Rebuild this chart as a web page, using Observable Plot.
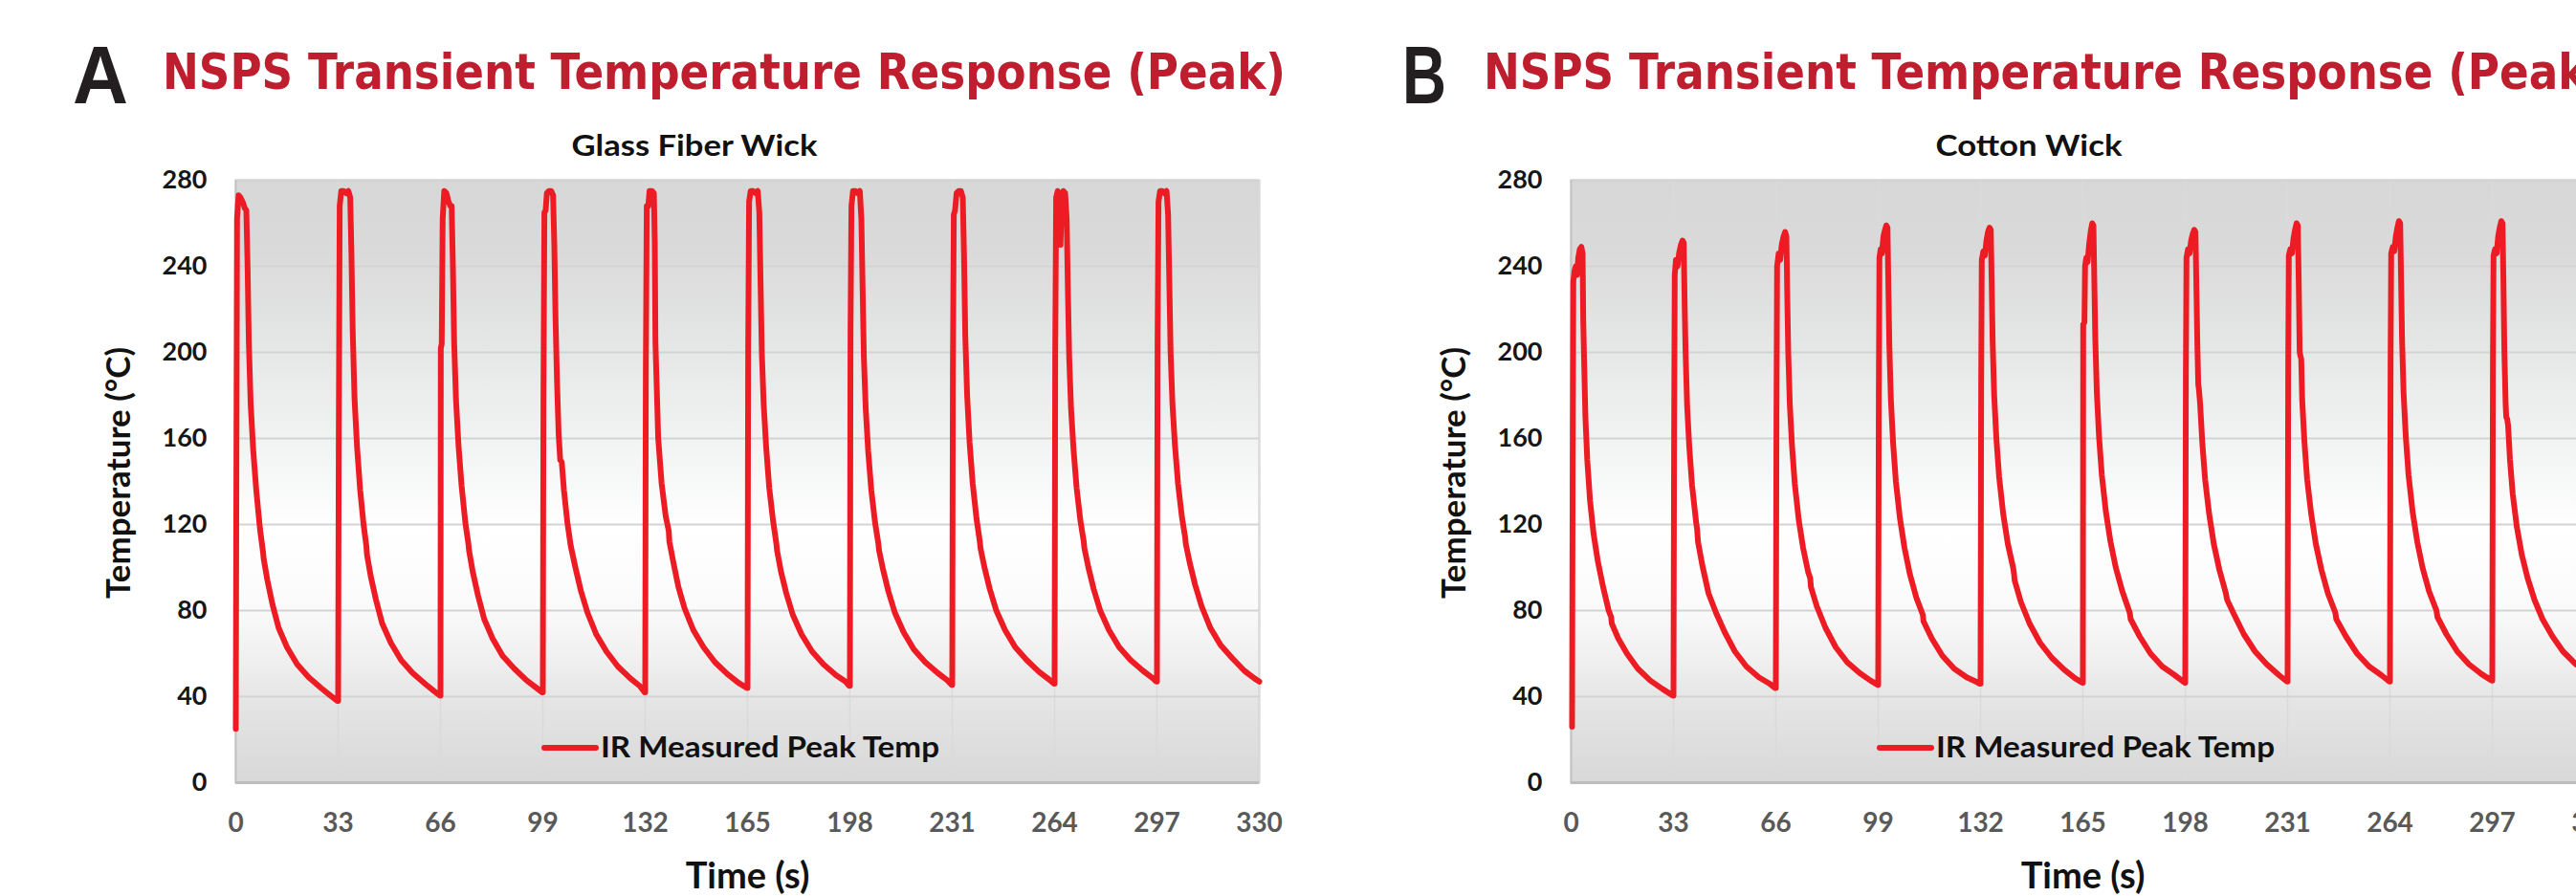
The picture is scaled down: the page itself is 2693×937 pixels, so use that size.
<!DOCTYPE html>
<html>
<head>
<meta charset="utf-8">
<script src="https://cdn.jsdelivr.net/npm/d3@7"></script>
<script src="https://cdn.jsdelivr.net/npm/@observablehq/plot@0.6"></script>
<style>
  html, body { margin: 0; padding: 0; background: #fff; }
  body { width: 2693px; height: 937px; overflow: hidden; position: relative; }
  .panel { position: absolute; top: 150px; width: 1400px; height: 787px; }
  #overlay { position: absolute; left: 0; top: 0; pointer-events: none; }
</style>
</head>
<body>
<div id="panelA" class="panel" style="left:0px"></div>
<div id="panelB" class="panel" style="left:1396px"></div>
<svg id="overlay" width="2693" height="937" xmlns="http://www.w3.org/2000/svg"></svg>
<script>
// ---------- data ----------
const panelLetters = ["A", "B"];
const mainTitle = "NSPS Transient Temperature Response (Peak)";
const subTitles = ["Glass Fiber Wick", "Cotton Wick"];
const seriesName = "IR Measured Peak Temp";
const xLabel = "Time (s)";
const yLabel = "Temperature (°C)";
const xTicks = [0, 33, 66, 99, 132, 165, 198, 231, 264, 297, 330];
const yTicks = [0, 40, 80, 120, 160, 200, 240, 280];

// Glass fiber wick: [time (s), temperature (°C)]
const glassFiberWick = [
  [0,25],[0.2,150],[0.4,262],[0.9,273],[1.5,272],[2.2,270],[2.9,267],[3.4,266],[3.8,240],[4.2,205],[4.8,176],[5.6,155],[6.6,136],[7.8,118],[8.8,107],[9.0,104],[10.2,94],[11.8,83],[13.8,72],[16.5,63],[19.8,55],[23.5,49],[27.5,44],[30.5,40.5],[32.8,38],
  [33,38],[33.2,160],[33.5,268],[34.0,275],[34.8,275],[35.6,274],[36.3,275],[36.9,272],[37.3,245],[37.7,210],[38.3,178],[39.1,156],[40.1,136],[41.2,120],[42.1,110],[42.3,106],[43.5,96],[45.2,85],[47.2,74],[50,65],[53.3,57],[57,51],[61,46],[64,42.5],[65.8,40.5],
  [66,40.5],[66.1,202],[66.4,204],[66.7,262],[67.2,275],[67.9,274],[68.6,270],[69.2,268],[69.6,268],[70.0,240],[70.4,205],[71.0,178],[71.8,157],[72.8,138],[74,121],[75,111],[75.2,108],[76.4,98],[78.1,87],[80.1,76],[82.8,67],[86,59],[89.8,53],[93.8,47.5],[97,44],[98.8,42],
  [99,42],[99.2,180],[99.5,265],[99.9,266],[100.3,274],[101,275],[101.7,275],[102.3,273],[102.7,250],[103.1,215],[103.6,185],[104.1,162],[104.6,150],[105.1,149],[105.8,136],[106.9,121],[108,110],[109.5,100],[111.3,89],[113.4,79],[116.2,69],[119.5,61],[123.2,54],[127.2,48.5],[130.2,45],[131.8,42],
  [132,42],[132.2,190],[132.5,268],[133,268],[133.4,275],[134.2,275],[134.8,274],[135.1,250],[135.3,205],[136.2,160],[137.3,139],[138.6,124],[139.6,117],[139.8,112],[141,103],[142.7,91],[144.7,81],[147.5,71],[150.8,63],[154.5,56],[158.5,50.5],[162,46.5],[164.8,44],
  [165,44],[165.2,200],[165.5,270],[166,275],[166.8,275],[167.6,274],[168.3,275],[168.8,265],[169.2,232],[169.6,200],[170.2,176],[171,156],[172,137],[173.2,122],[174.3,111],[174.5,108],[175.8,98],[177.5,88],[179.6,78],[182.4,69],[185.8,61],[189.5,55],[193.5,50],[196.6,47],[197.8,45],
  [198,45],[198.2,210],[198.5,268],[199,275],[199.8,275],[200.5,274],[201.2,275],[201.7,262],[202.1,230],[202.5,198],[203.1,174],[203.9,154],[204.9,136],[206.1,121],[207.2,111],[207.4,108],[208.7,99],[210.4,89],[212.5,79],[215.3,70],[218.6,62],[222.3,56],[226.3,51],[229.5,47.5],[230.8,45.5],
  [231,45.5],[231.2,190],[231.5,264],[231.9,266],[232.4,274],[233.1,275],[233.8,275],[234.4,272],[234.8,245],[235.2,208],[235.8,180],[236.6,158],[237.6,139],[238.8,123],[239.9,112],[240.1,109],[241.4,100],[243.1,90],[245.2,80],[248,71],[251.3,63],[255,57],[259,51.5],[262.2,48],[263.8,46],
  [264,46],[264.2,200],[264.5,272],[265,275],[265.5,265],[265.9,250],[266.3,270],[266.8,275],[267.4,274],[267.9,262],[268.3,228],[268.7,198],[269.3,174],[270.1,155],[271.1,137],[272.3,122],[273.4,112],[273.6,109],[274.9,100],[276.6,90],[278.7,80],[281.5,71],[284.8,63],[288.5,57],[292.5,52],[295.7,48.5],[296.8,47],
  [297,47],[297.2,205],[297.5,270],[298,275],[298.7,275],[299.4,274],[300.1,275],[300.6,264],[301,232],[301.4,200],[302,176],[302.8,157],[303.8,139],[305,124],[306.1,114],[306.3,111],[307.6,102],[309.3,92],[311.4,82],[314.2,72],[317.5,64],[321.2,58],[325.2,52],[328.4,48.5],[330,47]
];

// Cotton wick: [time (s), temperature (°C)]
const cottonWick = [
  [0.3,26],[0.5,150],[0.7,233],[1.1,238],[1.5,240],[1.9,236],[2.3,244],[2.8,248],[3.3,249],[3.7,246],[3.9,215],[4.2,195],[4.6,170],[5.2,150],[6.1,131],[7.2,116],[8.6,103],[10.3,91],[12.1,80],[12.9,77],[13.1,74],[15.2,67],[18,60],[21.5,53],[25.5,47.5],[29.5,43.5],[32.8,40.5],
  [33,40.5],[33.2,160],[33.4,236],[33.8,243],[34.3,240],[34.8,246],[35.4,250],[35.9,252],[36.3,251],[36.6,222],[36.9,200],[37.4,175],[38.1,156],[39,138],[40.3,121],[40.6,118],[40.9,112],[42.3,101],[44.3,88],[46.7,79],[49.5,70],[52.8,61],[56.5,54],[60.5,49],[64,46],[65.8,44],
  [66,44],[66.2,170],[66.4,240],[66.9,246],[67.4,243],[67.9,250],[68.5,254],[69,256],[69.4,254],[69.7,225],[70,200],[70.5,176],[71.2,157],[72.1,139],[73.4,122],[74.8,109],[76.4,98],[77.1,95],[77.3,91],[79.2,82],[82,72],[85.3,63],[89,56],[93,51],[96.5,47.5],[98.8,45.5],
  [99,45.5],[99.2,180],[99.4,244],[99.8,248],[100.2,246],[100.7,254],[101.2,257],[101.6,259],[102,258],[102.3,230],[102.6,203],[103.1,178],[103.8,158],[104.7,140],[106,123],[107.5,109],[109.2,97],[111.3,86],[113.4,78],[113.6,75],[116.3,67],[119.7,59],[123.5,53],[127.5,49],[130.5,47],[131.8,46],
  [132,46],[132.2,185],[132.4,243],[132.9,247],[133.4,245],[133.9,252],[134.4,256],[134.9,258],[135.3,257],[135.6,232],[135.9,205],[136.4,180],[137.1,160],[138,142],[139.3,125],[140.8,111],[142.5,100],[142.8,97],[143,94],[145,84],[147.8,74],[151.2,65],[155,58],[159,52.5],[162.5,48.5],[164.8,46.5],
  [165,46.5],[165.1,213],[165.5,214],[165.7,240],[166.1,244],[166.5,242],[167,250],[167.5,256],[168,260],[168.4,259],[168.7,232],[169,206],[169.5,181],[170.2,161],[171.1,143],[172.4,126],[173.9,112],[175.6,100],[177.7,89],[180.1,79],[180.4,76],[183.3,68],[186.8,60],[190.6,54],[194.6,50],[197.8,46.5],
  [198,46.5],[198.2,190],[198.4,244],[198.9,248],[199.4,246],[199.9,252],[200.4,255],[200.9,257],[201.3,256],[201.6,230],[201.9,204],[202.2,185],[202.4,183],[202.8,176],[203.5,158],[204.4,141],[205.7,125],[207.2,111],[209,99],[211.1,88],[211.5,85],[213.8,78],[216.9,69],[220.5,61],[224.3,55],[228.2,50],[230.8,47],
  [231,47],[231.2,195],[231.4,245],[231.9,248],[232.4,246],[232.9,253],[233.4,257],[233.9,260],[234.3,259],[234.6,232],[234.9,200],[235.2,198],[235.4,197],[235.7,178],[236.4,159],[237.3,141],[238.6,125],[240.1,111],[241.9,99],[244,88],[246.4,79],[246.7,76],[249.8,68],[253.4,60],[257.3,54],[261.2,50],[263.8,47],
  [264,47],[264.2,195],[264.4,246],[264.9,249],[265.4,247],[265.9,254],[266.4,258],[266.9,261],[267.3,260],[267.6,233],[267.9,206],[268.4,181],[269.1,161],[270,143],[271.3,126],[272.8,112],[274.5,100],[276.6,89],[279,80],[279.3,77],[282.2,69],[285.7,61],[289.5,55],[293.5,50.5],[296.8,47.5],
  [297,47.5],[297.2,195],[297.4,245],[297.9,248],[298.4,246],[298.9,254],[299.4,258],[299.9,261],[300.3,260],[300.6,232],[300.9,200],[301.3,176],[301.5,170],[301.8,169],[302.1,166],[302.7,150],[303.6,134],[304.9,119],[306.5,106],[308.4,95],[310.6,85],[313.2,76],[316.4,68],[319.8,61],[324,55],[327.5,51.5],[330,49.5]
];

// ---------- drawing ----------
const NS = "http://www.w3.org/2000/svg";
const RED = "#ed1c24";

function gradientDefs(id) {
  return () => {
    const defs = document.createElementNS(NS, "defs");
    const g = document.createElementNS(NS, "linearGradient");
    g.setAttribute("id", id);
    g.setAttribute("x1", "0"); g.setAttribute("y1", "0");
    g.setAttribute("x2", "0"); g.setAttribute("y2", "1");
    [[0, "#d7d7d7"], [0.12, "#dadada"], [0.3, "#e7e8e8"], [0.45, "#f3f4f4"],
     [0.58, "#ffffff"], [0.7, "#fbfbfb"], [0.8, "#efefef"], [0.87, "#e4e4e4"], [1, "#d8d8d8"]]
      .forEach(([o, c]) => {
        const s = document.createElementNS(NS, "stop");
        s.setAttribute("offset", o);
        s.setAttribute("stop-color", c);
        g.appendChild(s);
      });
    defs.appendChild(g);
    return defs;
  };
}

function makePanel(series, gid) {
  const data = series.map(([t, v]) => ({t, v}));
  return Plot.plot({
    width: 1400,
    height: 787,
    marginLeft: 246,
    marginRight: 84,
    marginTop: 38,
    marginBottom: 119,
    style: {background: "transparent", fontFamily: "Lato, 'Open Sans', sans-serif", overflow: "visible"},
    x: {domain: [0, 330]},
    y: {domain: [0, 280]},
    marks: [
      gradientDefs(gid),
      Plot.frame({fill: `url(#${gid})`, stroke: "#d0d0d0", strokeWidth: 2}),
      Plot.gridX(xTicks, {stroke: "#dadada", strokeOpacity: 1, strokeWidth: 1.5}),
      Plot.gridY(yTicks, {stroke: "#d3d3d3", strokeOpacity: 1, strokeWidth: 2.2}),
      Plot.ruleX([0], {stroke: "#c4c4c4", strokeWidth: 2}),
      Plot.ruleY([0], {stroke: "#bdbdbd", strokeWidth: 3}),
      Plot.line(data, {x: "t", y: "v", stroke: RED, strokeWidth: 6, strokeLinejoin: "round", strokeLinecap: "round"}),
      Plot.axisY(yTicks, {tickSize: 0, tickPadding: 30, fontSize: 27, fontWeight: 700, fill: "#161616", label: null}),
      Plot.axisX(xTicks, {tickSize: 0, tickPadding: 32, fontSize: 28, fontWeight: 700, fill: "#595959", label: null}),
      Plot.text([yLabel], {frameAnchor: "left", textAnchor: "middle", rotate: -90, dx: -122, dy: -9, fontSize: 35, fontWeight: 700, fill: "#111"}),
      Plot.text([xLabel], {frameAnchor: "bottom", textAnchor: "middle", dy: 110, fontSize: 38, fontWeight: 700, fill: "#111"})
    ]
  });
}

document.getElementById("panelA").appendChild(makePanel(glassFiberWick, "bgA"));
document.getElementById("panelB").appendChild(makePanel(cottonWick, "bgB"));

// ---------- titles, subtitles, legends ----------
const overlay = document.getElementById("overlay");
function addText(str, x, y, opts) {
  const t = document.createElementNS(NS, "text");
  t.textContent = str;
  t.setAttribute("x", x);
  t.setAttribute("y", y);
  t.setAttribute("font-family", opts.family);
  t.setAttribute("font-size", opts.size);
  t.setAttribute("font-weight", opts.weight || 700);
  t.setAttribute("fill", opts.fill);
  if (opts.anchor) t.setAttribute("text-anchor", opts.anchor);
  if (opts.length) {
    t.setAttribute("textLength", opts.length);
    t.setAttribute("lengthAdjust", "spacingAndGlyphs");
  }
  overlay.appendChild(t);
}
function addLine(x1, x2, y) {
  const l = document.createElementNS(NS, "line");
  l.setAttribute("x1", x1); l.setAttribute("x2", x2);
  l.setAttribute("y1", y); l.setAttribute("y2", y);
  l.setAttribute("stroke", RED);
  l.setAttribute("stroke-width", 6);
  l.setAttribute("stroke-linecap", "round");
  overlay.appendChild(l);
}

const headerFont = "'DejaVu Sans', 'Liberation Sans', sans-serif";
const bodyFont = "Lato, 'Open Sans', sans-serif";
const offsets = [0, 1396];

panelLetters.forEach((L, i) => {
  addText(L, i === 0 ? 76 : 1466, 108, {family: "'Liberation Sans', 'DejaVu Sans', sans-serif", size: 86, fill: "#231f20", length: i === 0 ? 58 : 46});
  addText(mainTitle, i === 0 ? 170 : 1551, 93, {family: headerFont, size: 52, fill: "#be1e2d", length: 1174});
  addText(subTitles[i], (i === 0 ? 726 : 2121), 163, {family: bodyFont, size: 30, fill: "#111", anchor: "middle", length: i === 0 ? 257 : 195});
  const o = offsets[i];
  addLine(569 + o, 623 + o, 782);
  addText(seriesName, 628 + o, 792, {family: bodyFont, size: 30, fill: "#111", length: 354});
});
</script>
</body>
</html>
